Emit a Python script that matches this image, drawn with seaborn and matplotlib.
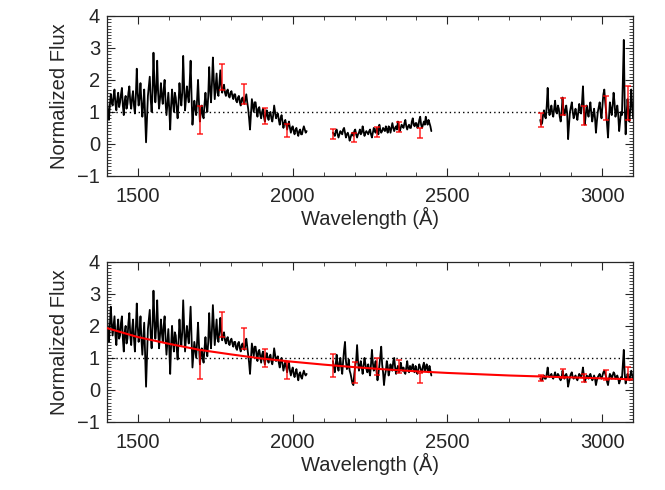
import numpy as np
import pandas as pd
import matplotlib
matplotlib.use("Agg")
import matplotlib.pyplot as plt
import seaborn as sb
from matplotlib.ticker import MultipleLocator

sb.set_style("ticks")
plt.rcParams["font.family"] = ["Liberation Sans", "DejaVu Sans"]
plt.rcParams["font.size"] = 14.5

# spectrum segments: start wavelength, step (A), flux values
seg_start = [1400, 2130, 2800]
seg_step = 3

top_seg1 = [1.35, 1.0, 0.75, 1.2, 1.55, 1.3, 1.2, 1.5, 1.7, 1.25,
            1.05, 1.4, 1.6, 1.15, 1.3, 1.55, 1.75, 1.2, 0.9, 1.35,
            1.5, 1.1, 1.25, 1.6, 1.8, 1.3, 1.1, 1.45, 1.65, 1.2,
            0.95, 1.5, 2.35, 1.6, 1.2, 1.45, 1.9, 1.3, 0.85, 1.25,
            1.7, 0.9, 0.05, 0.8, 1.5, 1.8, 2.1, 1.4, 1.0, 1.6,
            2.85, 1.9, 1.3, 1.7, 2.6, 1.6, 1.1, 1.4, 1.9, 1.5,
            1.25, 1.7, 2.0, 1.3, 0.9, 1.25, 1.6, 1.1, 0.45, 1.2,
            1.7, 1.3, 1.0, 1.6, 1.45, 1.1, 0.8, 1.3, 1.9, 1.5,
            1.2, 1.6, 2.75, 1.8, 1.05, 1.4, 1.8, 1.5, 1.3, 1.9,
            2.6, 1.5, 0.6, 1.0, 1.35, 1.1, 0.9, 1.4, 2.0, 1.3,
            0.7, 1.0, 1.2, 0.9, 0.8, 1.25, 1.6, 1.2, 1.0, 1.5,
            2.4, 1.7, 1.3, 1.9, 2.7, 2.0, 1.4, 1.8, 2.2, 1.6,
            1.5, 1.9, 2.3, 1.8, 1.6, 1.75, 1.85, 1.6, 1.5, 1.65,
            1.7, 1.5, 1.45, 1.6, 1.65, 1.5, 1.4, 1.55, 1.55, 1.35,
            1.3, 1.45, 1.5, 1.3, 1.2, 1.4, 1.45, 1.3, 1.25, 1.4,
            1.55, 1.3, 1.1, 0.8, 0.45, 0.9, 1.4, 1.2, 1.0, 1.3,
            1.3, 1.05, 0.85, 1.1, 1.15, 0.95, 0.8, 1.0, 1.1, 0.85,
            0.7, 0.9, 1.05, 0.85, 0.75, 0.95, 1.0, 0.8, 0.7, 0.9,
            1.2, 1.0, 0.8, 0.9, 0.95, 0.75, 0.6, 0.8, 0.9, 0.7,
            0.5, 0.65, 0.75, 0.6, 0.45, 0.6, 0.7, 0.5, 0.35, 0.5,
            0.55, 0.4, 0.3, 0.45, 0.5, 0.35, 0.25, 0.4, 0.45, 0.3,
            0.3, 0.45, 0.55, 0.45, 0.35, 0.4]
top_seg2 = [0.35, 0.3, 0.25, 0.4, 0.45, 0.3, 0.2, 0.3, 0.4, 0.35,
            0.3, 0.45, 0.5, 0.35, 0.2, 0.3, 0.35, 0.25, 0.1, 0.2,
            0.3, 0.35, 0.25, 0.4, 0.45, 0.3, 0.2, 0.3, 0.35, 0.45,
            0.3, 0.35, 0.55, 0.4, 0.25, 0.35, 0.4, 0.35, 0.3, 0.4,
            0.45, 0.3, 0.2, 0.35, 0.5, 0.4, 0.35, 0.5, 0.4, 0.3,
            0.6, 0.45, 0.35, 0.4, 0.5, 0.45, 0.4, 0.55, 0.45, 0.35,
            0.55, 0.5, 0.35, 0.5, 0.65, 0.5, 0.4, 0.5, 0.55, 0.45,
            0.7, 0.55, 0.4, 0.5, 0.6, 0.55, 0.5, 0.65, 0.75, 0.55,
            0.45, 0.55, 0.6, 0.5, 0.5, 0.7, 0.8, 0.6, 0.55, 0.65,
            0.65, 0.5, 0.55, 0.75, 0.85, 0.6, 0.5, 0.6, 0.7, 0.6,
            0.85, 0.7, 0.6, 0.75, 0.65, 0.55, 0.4]
top_seg3 = [0.75, 0.6, 0.65, 0.9, 1.05, 0.85, 0.8, 1.2, 1.75, 1.1,
            0.9, 1.05, 1.2, 0.95, 0.85, 1.1, 1.35, 1.0, 0.95, 1.2,
            1.1, 0.85, 0.7, 1.0, 1.45, 1.1, 0.9, 1.05, 1.2, 0.95,
            0.15, 0.6, 1.0, 1.15, 1.3, 1.0, 0.8, 0.95, 1.1, 0.9,
            0.75, 1.0, 1.25, 1.05, 0.95, 1.3, 1.8, 1.1, 0.6, 0.9,
            1.2, 1.0, 0.85, 1.1, 1.3, 0.95, 0.7, 0.9, 1.1, 0.8,
            0.35, 0.7, 1.0, 1.15, 1.3, 1.0, 0.8, 1.2, 1.55, 1.7,
            1.3, 1.0, 0.6, 0.2, 0.8, 1.3, 1.1, 0.9, 1.2, 1.6,
            1.3, 0.85, 1.0, 1.2, 0.9, 0.4, 0.7, 1.0, 0.9, 2.0,
            3.25, 1.2, 0.3, 0.9, 1.4, 1.0, 0.7, 1.1, 1.7, 1.2,
            0.8]

bot_seg1 = [2.3, 1.8, 1.5, 2.0, 2.6, 2.1, 1.7, 2.0, 2.3, 1.7,
            1.4, 1.9, 2.2, 1.6, 1.7, 2.1, 2.3, 1.6, 1.2, 1.8,
            2.0, 1.45, 1.6, 2.1, 2.4, 1.7, 1.4, 1.9, 2.2, 1.6,
            1.2, 1.9, 2.7, 2.0, 1.5, 1.8, 2.3, 1.6, 1.1, 1.6,
            2.1, 1.1, 0.1, 1.0, 1.9, 2.2, 2.5, 1.7, 1.3, 2.0,
            3.1, 2.2, 1.6, 2.0, 2.8, 1.9, 1.3, 1.7, 2.2, 1.8,
            1.5, 2.0, 2.3, 1.6, 1.1, 1.5, 1.9, 1.3, 0.5, 1.4,
            2.0, 1.5, 1.2, 1.8, 1.7, 1.3, 0.95, 1.5, 2.2, 1.7,
            1.4, 1.8, 2.8, 2.0, 1.2, 1.6, 2.0, 1.7, 1.45, 2.0,
            2.6, 1.6, 0.7, 1.1, 1.5, 1.25, 1.0, 1.5, 2.1, 1.4,
            0.8, 1.1, 1.3, 1.0, 0.85, 1.3, 1.65, 1.25, 1.05, 1.5,
            2.4, 1.7, 1.3, 1.9, 2.65, 2.0, 1.4, 1.8, 2.2, 1.6,
            1.5, 1.85, 2.25, 1.8, 1.55, 1.7, 1.8, 1.55, 1.45, 1.6,
            1.65, 1.45, 1.4, 1.55, 1.6, 1.45, 1.35, 1.5, 1.5, 1.3,
            1.25, 1.45, 1.5, 1.3, 1.2, 1.4, 1.45, 1.3, 1.25, 1.4,
            1.6, 1.35, 1.1, 0.85, 0.5, 0.95, 1.45, 1.25, 1.05, 1.35,
            1.35, 1.1, 0.9, 1.2, 1.25, 1.05, 0.85, 1.1, 1.2, 0.95,
            0.8, 1.0, 1.15, 0.95, 0.85, 1.05, 1.1, 0.9, 0.8, 1.0,
            1.3, 1.1, 0.9, 1.0, 1.05, 0.85, 0.7, 0.9, 1.0, 0.8,
            0.6, 0.75, 0.9, 0.7, 0.55, 0.75, 0.85, 0.6, 0.45, 0.6,
            0.7, 0.5, 0.4, 0.55, 0.65, 0.45, 0.3, 0.5, 0.55, 0.4,
            0.35, 0.5, 0.6, 0.5, 0.45, 0.5]
bot_seg2 = [0.9, 0.7, 0.55, 0.8, 1.1, 0.75, 0.6, 0.85, 1.0, 0.7,
            0.5, 0.9, 1.25, 1.5, 0.9, 0.65, 0.7, 0.95, 0.6, 0.5,
            0.35, 0.2, 0.15, 0.5, 0.75, 0.9, 1.4, 0.9, 0.6, 0.75,
            0.9, 0.7, 0.5, 0.75, 1.0, 0.8, 0.65, 0.55, 0.8, 0.6,
            0.45, 0.8, 1.25, 0.85, 0.6, 0.75, 0.9, 0.55, 0.3, 0.5,
            0.75, 1.05, 1.35, 0.8, 0.55, 0.15, 0.45, 0.6, 0.9, 0.75,
            0.45, 0.6, 0.8, 0.65, 0.6, 0.9, 1.0, 0.7, 0.5, 0.65,
            0.75, 0.55, 0.6, 0.85, 0.7, 0.6, 0.7, 0.55, 0.5, 0.7,
            0.9, 0.65, 0.55, 0.75, 0.6, 0.7, 0.8, 0.6, 0.55, 0.75,
            0.6, 0.5, 0.65, 0.8, 0.7, 0.6, 0.55, 0.75, 0.85, 0.6,
            0.7, 0.8, 0.6, 0.55, 0.75, 0.6, 0.45]
bot_seg3 = [0.35, 0.3, 0.3, 0.4, 0.45, 0.35, 0.35, 0.5, 0.7, 0.45,
            0.4, 0.45, 0.5, 0.4, 0.35, 0.45, 0.55, 0.4, 0.4, 0.5,
            0.45, 0.35, 0.3, 0.4, 0.6, 0.45, 0.35, 0.45, 0.5, 0.4,
            0.1, 0.25, 0.4, 0.5, 0.55, 0.4, 0.35, 0.4, 0.45, 0.35,
            0.3, 0.4, 0.5, 0.45, 0.4, 0.5, 0.7, 0.45, 0.25, 0.35,
            0.45, 0.4, 0.35, 0.45, 0.5, 0.4, 0.3, 0.35, 0.45, 0.35,
            0.15, 0.3, 0.4, 0.45, 0.5, 0.4, 0.35, 0.45, 0.55, 0.6,
            0.5, 0.4, 0.25, 0.15, 0.35, 0.5, 0.45, 0.35, 0.45, 0.55,
            0.5, 0.35, 0.4, 0.45, 0.35, 0.2, 0.3, 0.4, 0.35, 0.8,
            1.25, 0.5, 0.2, 0.35, 0.5, 0.4, 0.3, 0.45, 0.6, 0.45,
            0.35]

# red error bars
err_wave_top = [1701, 1771, 1841, 1911, 1983, 2129, 2197, 2272, 2343, 2411,
                2801, 2873, 2942, 3012, 3084]
err_flux_top = [0.75, 2.09, 1.55, 0.87, 0.42, 0.31, 0.21, 0.38, 0.53, 0.33,
                0.74, 1.18, 0.89, 1.12, 1.28]
err_size_top = [0.44, 0.40, 0.31, 0.24, 0.20, 0.16, 0.14, 0.16, 0.17, 0.16,
                0.22, 0.27, 0.30, 0.38, 0.53]

err_wave_bot = [1701, 1771, 1841, 1911, 1983, 2129, 2201, 2272, 2343, 2411,
                2801, 2873, 2942, 3012, 3084]
err_flux_bot = [0.79, 2.05, 1.60, 1.01, 0.61, 0.77, 0.55, 0.73, 0.73, 0.38,
                0.37, 0.51, 0.38, 0.47, 0.50]
err_size_bot = [0.46, 0.40, 0.32, 0.28, 0.27, 0.36, 0.32, 0.26, 0.19, 0.16,
                0.09, 0.15, 0.12, 0.16, 0.20]

# red continuum fit (bottom panel)
fit_wave = [1400, 1500, 1600, 1700, 1800, 1900, 2000, 2100, 2200, 2300,
            2400, 2500, 2600, 2700, 2800, 2900, 3000, 3100]
fit_flux = [1.93, 1.65, 1.44, 1.25, 1.11, 0.98, 0.88, 0.79, 0.71, 0.64,
            0.58, 0.53, 0.49, 0.45, 0.42, 0.39, 0.36, 0.33]


def to_frame(segs):
    rows = []
    for k, (s, vals) in enumerate(zip(seg_start, segs)):
        for i, v in enumerate(vals):
            rows.append((k, s + seg_step * i, v))
    return pd.DataFrame(rows, columns=["seg", "wave", "flux"])


def draw(ax, segs, ew, ef, es):
    df = to_frame(segs)
    ax.axhline(1, color="black", lw=1, ls=(0, (1, 2.2)), zorder=1)
    for k, part in df.groupby("seg"):
        sb.lineplot(data=part, x="wave", y="flux", ax=ax, color="black",
                    lw=1.3, estimator=None, sort=False, zorder=2)
    ax.errorbar(ew, ef, yerr=es, fmt="none", ecolor="red", elinewidth=1.1,
                capsize=2.5, capthick=1.1, alpha=0.85, zorder=3)
    ax.set_xlim(1400, 3100)
    ax.set_ylim(-1, 4)
    ax.xaxis.set_major_locator(MultipleLocator(500))
    ax.xaxis.set_minor_locator(MultipleLocator(100))
    ax.yaxis.set_major_locator(MultipleLocator(1))
    ax.yaxis.set_minor_locator(MultipleLocator(0.1))
    ax.tick_params(which="both", direction="in", top=True, right=True)
    ax.tick_params(which="major", length=6, width=0.8)
    ax.tick_params(which="minor", length=3, width=0.6)
    ax.tick_params(axis="x", pad=8)
    ax.tick_params(axis="y", pad=5)
    for sp in ax.spines.values():
        sp.set_linewidth(0.9)
    ax.set_xlabel("Wavelength (Å)", labelpad=1)
    ax.set_ylabel("Normalized Flux", labelpad=6)


fig = plt.figure(figsize=(6.65, 4.9), dpi=100)
ax1 = fig.add_axes([0.161, 0.641, 0.791, 0.3265])
ax2 = fig.add_axes([0.161, 0.139, 0.791, 0.3265])

draw(ax1, [top_seg1, top_seg2, top_seg3], err_wave_top, err_flux_top, err_size_top)
draw(ax2, [bot_seg1, bot_seg2, bot_seg3], err_wave_bot, err_flux_bot, err_size_bot)
sb.lineplot(x=fit_wave, y=fit_flux, ax=ax2, color="red", lw=1.5, zorder=4)

fig.savefig("out.png", dpi=100)
